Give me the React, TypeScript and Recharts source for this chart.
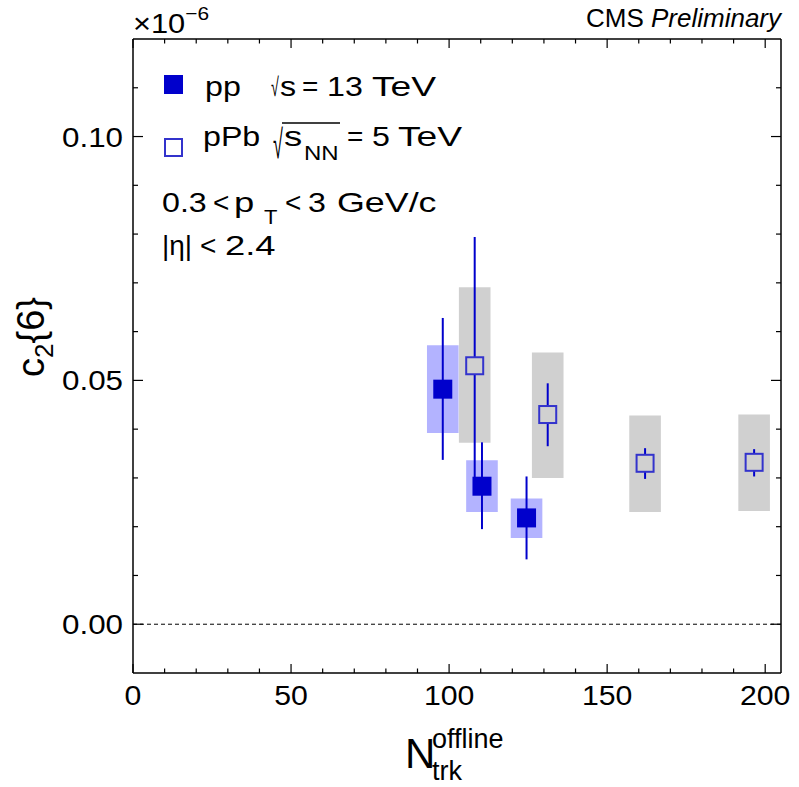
import { ComposedChart, Scatter, ErrorBar, XAxis, YAxis, ReferenceArea, ReferenceLine } from 'recharts';

// pp, sqrt(s) = 13 TeV
const ppN = [98.0, 110.4, 124.5];
const ppC2 = [0.0482, 0.0283, 0.0218];
const ppStatHi = [0.0628, 0.0373, 0.0303];
const ppStatLo = [0.0337, 0.0195, 0.0133];
const ppSysHi = [0.0572, 0.0336, 0.0258];
const ppSysLo = [0.0392, 0.023, 0.0177];

// pPb, sqrt(sNN) = 5 TeV
const pPbN = [108.1, 131.2, 162.0, 196.5];
const pPbC2 = [0.053, 0.043, 0.033, 0.0332];
const pPbStatHi = [0.0794, 0.0494, 0.0361, 0.0359];
const pPbStatLo = [0.0266, 0.0365, 0.0298, 0.0303];
const pPbSysHi = [0.0691, 0.0557, 0.0428, 0.043];
const pPbSysLo = [0.0372, 0.03, 0.023, 0.0232];

const sysHalfWidth = 5;

const xTicks = [0, 10, 20, 30, 40, 50, 60, 70, 80, 90, 100, 110, 120, 130, 140, 150, 160, 170, 180, 190, 200];
const yTicks = [0, 0.01, 0.02, 0.03, 0.04, 0.05, 0.06, 0.07, 0.08, 0.09, 0.1, 0.11];
const xDomain = [0, 205];
const yDomain = [-0.01, 0.12];

const FONT = '"Liberation Sans", Arial, Helvetica, sans-serif';
const PP_BLUE = '#0000cc';
const PPB_BLUE = '#3333cc';
const PP_SYS = '#b3b3ff';
const PPB_SYS = '#d0d0d0';

const toRows = (n: number[], c: number[], hi: number[], lo: number[]) =>
  n.map((v, i) => ({ n: v, c: c[i], err: [c[i] - lo[i], hi[i] - c[i]] }));

const ppRows = toRows(ppN, ppC2, ppStatHi, ppStatLo);
const pPbRows = toRows(pPbN, pPbC2, pPbStatHi, pPbStatLo);

const isMajorX = (v: number) => v % 50 === 0;
const isMajorY = (v: number) => Math.round(v * 100) % 5 === 0;

// text with a little horizontal stretch, ROOT's Helvetica runs wider than Liberation
function SText({ x, y, size = 28, sx = 1.15, anchor = 'start', italic = false, children }: any) {
  return (
    <text
      transform={`translate(${x},${y}) scale(${sx},1)`}
      fontSize={size}
      textAnchor={anchor}
      fontStyle={italic ? 'italic' : 'normal'}
      fontFamily={FONT}
      fill="#000"
    >
      {children}
    </text>
  );
}

function BottomTick({ x, y, payload }: any) {
  const major = isMajorX(payload.value);
  return (
    <g>
      <line x1={x} x2={x} y1={y} y2={y - (major ? 9 : 4.5)} stroke="#000" strokeWidth={1.2} />
      {major && (
        <SText x={x} y={y + 32} sx={1.08} anchor="middle">
          {payload.value}
        </SText>
      )}
    </g>
  );
}

function TopTick({ x, y, payload }: any) {
  const major = isMajorX(payload.value);
  return <line x1={x} x2={x} y1={y} y2={y + (major ? 9 : 4.5)} stroke="#000" strokeWidth={1.2} />;
}

function LeftTick({ x, y, payload }: any) {
  const major = isMajorY(payload.value);
  return (
    <g>
      <line x1={x} x2={x + (major ? 10 : 5)} y1={y} y2={y} stroke="#000" strokeWidth={1.2} />
      {major && (
        <SText x={x - 10} y={y + 10} sx={1.12} anchor="end">
          {payload.value.toFixed(2)}
        </SText>
      )}
    </g>
  );
}

function RightTick({ x, y, payload }: any) {
  const major = isMajorY(payload.value);
  return <line x1={x} x2={x - (major ? 10 : 5)} y1={y} y2={y} stroke="#000" strokeWidth={1.2} />;
}

const FilledSquare = ({ cx, cy }: any) => (
  <rect x={cx - 9.5} y={cy - 9.5} width={19} height={19} fill={PP_BLUE} />
);

const OpenSquare = ({ cx, cy }: any) => (
  <rect x={cx - 8.5} y={cy - 8.5} width={17} height={17} fill={PPB_SYS} stroke={PPB_BLUE} strokeWidth={2} />
);

export default function App() {
  const axisLine = { stroke: '#000', strokeWidth: 1.5 };
  const common = {
    type: 'number' as const,
    allowDataOverflow: true,
    interval: 0 as const,
    tickSize: 0,
    tickMargin: 0,
    tickLine: false,
    axisLine,
  };
  return (
    <div style={{ position: 'absolute', left: 0, top: 0, width: 799, height: 787, background: '#fff' }}>
      <ComposedChart width={799} height={787} margin={{ top: 38, right: 17, bottom: 113, left: 132 }}>
        <XAxis {...common} dataKey="n" domain={xDomain} ticks={xTicks} height={1} tick={<BottomTick />} />
        <XAxis
          {...common}
          xAxisId="top"
          orientation="top"
          dataKey="n"
          domain={xDomain}
          ticks={xTicks}
          height={1}
          tick={<TopTick />}
        />
        <YAxis {...common} dataKey="c" domain={yDomain} ticks={yTicks} width={1} tick={<LeftTick />} />
        <YAxis
          {...common}
          yAxisId="right"
          orientation="right"
          dataKey="c"
          domain={yDomain}
          ticks={yTicks}
          width={1}
          tick={<RightTick />}
        />
        <ReferenceLine y={0} stroke="#000" strokeWidth={1} strokeDasharray="4 3" />
        {ppN.map((n, i) => (
          <ReferenceArea
            key={`pps${i}`}
            x1={n - sysHalfWidth}
            x2={n + sysHalfWidth}
            y1={ppSysLo[i]}
            y2={ppSysHi[i]}
            fill={PP_SYS}
            fillOpacity={1}
            stroke="none"
          />
        ))}
        {pPbN.map((n, i) => (
          <ReferenceArea
            key={`pPbs${i}`}
            x1={n - sysHalfWidth}
            x2={n + sysHalfWidth}
            y1={pPbSysLo[i]}
            y2={pPbSysHi[i]}
            fill={PPB_SYS}
            fillOpacity={1}
            stroke="none"
          />
        ))}
        <Scatter data={pPbRows} dataKey="c" shape={<OpenSquare />} isAnimationActive={false}>
          <ErrorBar dataKey="err" direction="y" width={0} stroke={PP_BLUE} strokeWidth={2} isAnimationActive={false} />
        </Scatter>
        <Scatter data={ppRows} dataKey="c" shape={<FilledSquare />} isAnimationActive={false}>
          <ErrorBar dataKey="err" direction="y" width={0} stroke={PP_BLUE} strokeWidth={2} isAnimationActive={false} />
        </Scatter>
      </ComposedChart>

      <svg
        width={799}
        height={787}
        style={{ position: 'absolute', left: 0, top: 0, pointerEvents: 'none' }}
        fontFamily={FONT}
      >
        {/* exponent */}
        <SText x={133} y={33} size={28} sx={1.1}>
          ×10
          <tspan fontSize={19} dy={-13}>−6</tspan>
        </SText>
        {/* CMS Preliminary */}
        <text x={781} y={27} fontSize={26} textAnchor="end" fill="#000">
          CMS <tspan fontStyle="italic">Preliminary</tspan>
        </text>

        {/* legend, pp */}
        <rect x={164} y={75} width={19} height={19} fill={PP_BLUE} />
        <SText x={205} y={95.5}>pp</SText>
        <SText x={271} y={96} size={26} sx={0.55}>√</SText>
        <SText x={280} y={95.5}>s</SText>
        <SText x={302} y={95.5} sx={1}>=</SText>
        <SText x={327} y={95.5}>13</SText>
        <SText x={372} y={95.5} sx={1.33}>TeV</SText>

        {/* legend, pPb */}
        <rect x={165} y={139} width={17} height={17} fill="#fff" stroke={PPB_BLUE} strokeWidth={2} />
        <SText x={203} y={145.5}>pPb</SText>
        <SText x={273} y={158} size={40} sx={0.45}>√</SText>
        <line x1={282} x2={340} y1={123} y2={123} stroke="#000" strokeWidth={1.5} />
        <SText x={284} y={145.5} sx={1.3}>s</SText>
        <SText x={304} y={160} size={20} sx={1.2}>NN</SText>
        <SText x={347} y={145.5} sx={1}>=</SText>
        <SText x={372} y={145.5}>5</SText>
        <SText x={398} y={145.5} sx={1.33}>TeV</SText>

        {/* kinematic range */}
        <SText x={162} y={212}>0.3</SText>
        <SText x={213} y={212} sx={1}>&lt;</SText>
        <SText x={234} y={212} sx={1.3}>p</SText>
        <SText x={264} y={224} size={20} sx={1.1}>T</SText>
        <SText x={285} y={212} sx={1}>&lt;</SText>
        <SText x={308} y={212}>3</SText>
        <SText x={337} y={212} sx={1.28}>GeV/c</SText>

        <SText x={162} y={255} sx={1}>|η|</SText>
        <SText x={200} y={255} sx={1}>&lt;</SText>
        <SText x={225} y={255} sx={1.3}>2.4</SText>

        {/* y-axis title */}
        <text transform="translate(44,337) rotate(-90)" textAnchor="middle" fontSize={38} fill="#000">
          c<tspan fontSize={26} dy={9}>2</tspan>
          <tspan dy={-9}>{'{6}'}</tspan>
        </text>

        {/* x-axis title */}
        <text x={405} y={768} fontSize={42} fill="#000">N</text>
        <text x={432} y={748} fontSize={27} fill="#000">offline</text>
        <text x={432} y={780} fontSize={27} fill="#000">trk</text>
      </svg>
    </div>
  );
}
